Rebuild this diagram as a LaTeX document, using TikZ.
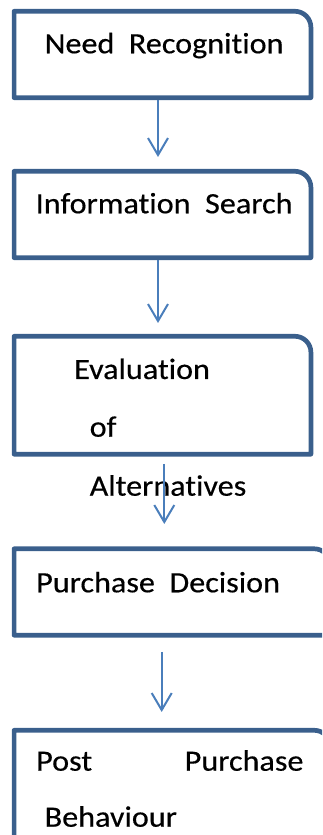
\documentclass[tikz,border=0pt]{standalone}
\usepackage{fontspec}
\setmainfont[Ligatures={NoCommon}, FakeStretch=1.09, FakeBold=0.4]{Carlito}
\usetikzlibrary{arrows.meta}
\definecolor{frameblue}{HTML}{3A5F8C}
\definecolor{arrowblue}{HTML}{4A7EBB}
\tikzset{
  stagebox/.style={draw=none, inner sep=0pt, rectangle},
  frame/.style={draw=frameblue, line width=4.7pt, line join=round},
  label/.style={inner sep=0pt, anchor=base west, font=\fontsize{29.5}{34}\selectfont, text=black},
  flow/.style={draw=arrowblue, line width=2pt, -{Straight Barb[length=17pt, width=20pt, line width=2pt]}},
}
% outline with only the upper right corner rounded
\newcommand{\stageframe}[1]{%
  \draw[frame] (#1.south west) -- (#1.north west)
    -- ([xshift=-16pt]#1.north east) arc[start angle=90, end angle=0, radius=16pt]
    -- (#1.south east) -- cycle;}
\begin{document}
\begin{tikzpicture}[x=1pt, y=1pt]
  \useasboundingbox (0,0) rectangle (322,835);
  \begin{scope}
    \clip (0,0) rectangle (322,835);

    % stage boxes
    \node[stagebox, minimum width=296.4pt, minimum height=86pt] (b1) at (162.5,780.5) {};
    \node[stagebox, minimum width=296.4pt, minimum height=86pt] (b2) at (162.5,620.5) {};
    \node[stagebox, minimum width=296.4pt, minimum height=117.5pt] (b3) at (162.5,439.75) {};
    \node[stagebox, minimum width=315.7pt, minimum height=86pt] (b4) at (172.15,243) {};
    \node[stagebox, minimum width=315.7pt, minimum height=114.5pt] (b5) at (172.15,47.25) {};
    \stageframe{b1}
    \stageframe{b2}
    \stageframe{b3}
    \stageframe{b4}
    \stageframe{b5}

    % labels
    \node[label] (t1) at (44.5,781.7) {Need~~Recognition};
    \node[label] (t2) at (35.5,621.7) {Information~~Search};
    \node[label] (t3a) at (74,456) {Evaluation};
    \node[label] (t3b) at (89.5,398.3) {of};
    \node[label] (t3c) at (89.5,339.3) {Alternatives};
    \node[label] (t4) at (36,242.7) {Purchase~~Decision};
    \node[label] (t5a) at (36,64.3) {Post};
    \node[label] (t5b) at (184.5,64.3) {Purchase};
    \node[label] (t5c) at (44.5,8.3) {Behaviour};

    % connector ends
    \coordinate (a1s) at (158,735);   \coordinate (a1e) at (158,678);
    \coordinate (a2s) at (158,575);   \coordinate (a2e) at (158,512);
    \coordinate (a3s) at (164.3,371); \coordinate (a3e) at (164.3,311);
    \coordinate (a4s) at (161.7,183); \coordinate (a4e) at (161.7,123);
    \draw[flow] (a1s) -- (a1e);
    \draw[flow] (a2s) -- (a2e);
    \draw[flow] (a3s) -- (a3e);
    \draw[flow] (a4s) -- (a4e);
  \end{scope}
\end{tikzpicture}
\end{document}
